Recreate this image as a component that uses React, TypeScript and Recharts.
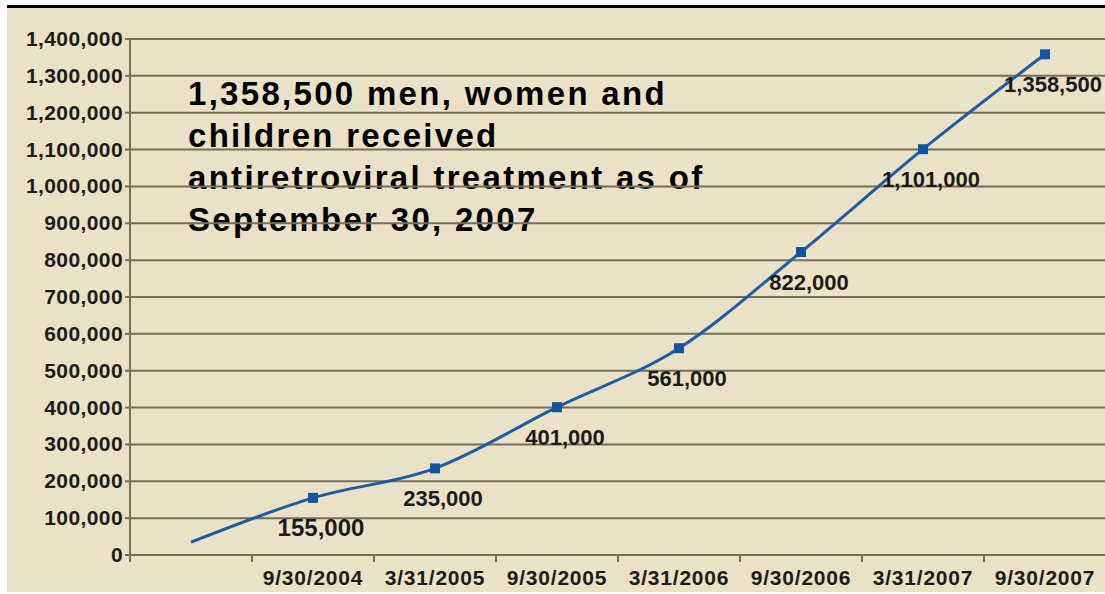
import { CartesianGrid, LabelList, Line, LineChart, XAxis, YAxis } from "recharts";

const categories = ["", "9/30/2004", "3/31/2005", "9/30/2005", "3/31/2006", "9/30/2006", "3/31/2007", "9/30/2007"];
const treated = [35000, 155000, 235000, 401000, 561000, 822000, 1101000, 1358500];
const showMarker = [false, true, true, true, true, true, true, true];
const yTicks = [0, 100000, 200000, 300000, 400000, 500000, 600000, 700000, 800000, 900000, 1000000, 1100000, 1200000, 1300000, 1400000];
const titleLines = [
  "1,358,500 men, women and",
  "children received",
  "antiretroviral treatment as of",
  "September 30, 2007",
];

const rows = categories.map((date, i) => ({ pos: i + 0.5, date, value: treated[i] }));
// boundaries at whole numbers, labels at the band centres
const xTicks = Array.from({ length: categories.length * 2 + 1 }, (_, i) => i / 2);

const FONT = "'Liberation Sans', Arial, sans-serif";
const INK = "#1c1c1c";
const GRID = "#756f59";
const BLUE = "#1a5ca6";

const fmt = (v: number) => v.toLocaleString("en-US");

function XTick(props: any) {
  const { x, y, payload } = props;
  const v = payload.value as number;
  if (Number.isInteger(v)) {
    return <line x1={x} x2={x} y1={y} y2={y + 7} stroke={GRID} strokeWidth={2} />;
  }
  return (
    <text x={x} y={y + 30} textAnchor="middle" fontFamily={FONT} fontWeight="bold" fontSize={21} letterSpacing={0.8} fill={INK}>
      {categories[Math.floor(v)]}
    </text>
  );
}

function YTick(props: any) {
  const { x, y, payload } = props;
  return (
    <g>
      <line x1={x - 5} x2={x} y1={y} y2={y} stroke={GRID} strokeWidth={2} />
      <text x={x - 7} y={y + 7} textAnchor="end" fontFamily={FONT} fontWeight="bold" fontSize={21} letterSpacing={0.4} fill={INK}>
        {fmt(payload.value)}
      </text>
    </g>
  );
}

function PointLabel(props: any) {
  const { x, y, value, index } = props;
  if (!showMarker[index]) return null;
  return (
    <text x={x + 8} y={y + 38} textAnchor="middle" fontFamily={FONT} fontWeight="bold" fontSize={index === 1 ? 24 : 22} fill={INK}>
      {fmt(value)}
    </text>
  );
}

function SquareDot(props: any) {
  const { cx, cy, index } = props;
  if (!showMarker[index]) return <g key={`d${index}`} />;
  return <rect key={`d${index}`} x={cx - 5} y={cy - 5} width={10} height={10} fill="#0f559f" />;
}

export default function App() {
  return (
    <div style={{ position: "absolute", left: 0, top: 0, width: 1105, height: 594, overflow: "hidden", background: "#fff" }}>
      <div style={{ position: "absolute", left: 7, top: 5, width: 1098, height: 3, background: "#000" }} />
      <div style={{ position: "absolute", left: 7, top: 8, width: 1098, height: 584, background: "#ebe1c7" }} />
      <svg width={1105} height={594} style={{ position: "absolute", left: 0, top: 0 }}>
        {titleLines.map((t, i) => (
          <text key={t} x={188} y={105 + i * 42} fontFamily={FONT} fontWeight="bold" fontSize={33} letterSpacing={2.3} fill="#000">
            {t}
          </text>
        ))}
      </svg>
      <div style={{ position: "absolute", left: 0, top: 0 }}>
        <LineChart width={1108} height={594} data={rows} margin={{ top: 39, right: 2, bottom: 0, left: 0 }}>
          <CartesianGrid vertical={false} stroke={GRID} strokeWidth={2} />
          <XAxis
            dataKey="pos"
            type="number"
            domain={[0, categories.length]}
            ticks={xTicks}
            interval={0}
            height={39}
            tickSize={0}
            tickMargin={0}
            tickLine={false}
            axisLine={{ stroke: GRID, strokeWidth: 2 }}
            tick={<XTick />}
          />
          <YAxis
            domain={[0, 1400000]}
            ticks={yTicks}
            interval={0}
            width={130}
            tickSize={0}
            tickMargin={0}
            tickLine={false}
            axisLine={{ stroke: GRID, strokeWidth: 2 }}
            tick={<YTick />}
          />
          <Line
            type="monotone"
            dataKey="value"
            stroke={BLUE}
            strokeWidth={3}
            dot={<SquareDot />}
            activeDot={false}
            isAnimationActive={false}
          >
            <LabelList dataKey="value" content={<PointLabel />} />
          </Line>
        </LineChart>
      </div>
    </div>
  );
}
